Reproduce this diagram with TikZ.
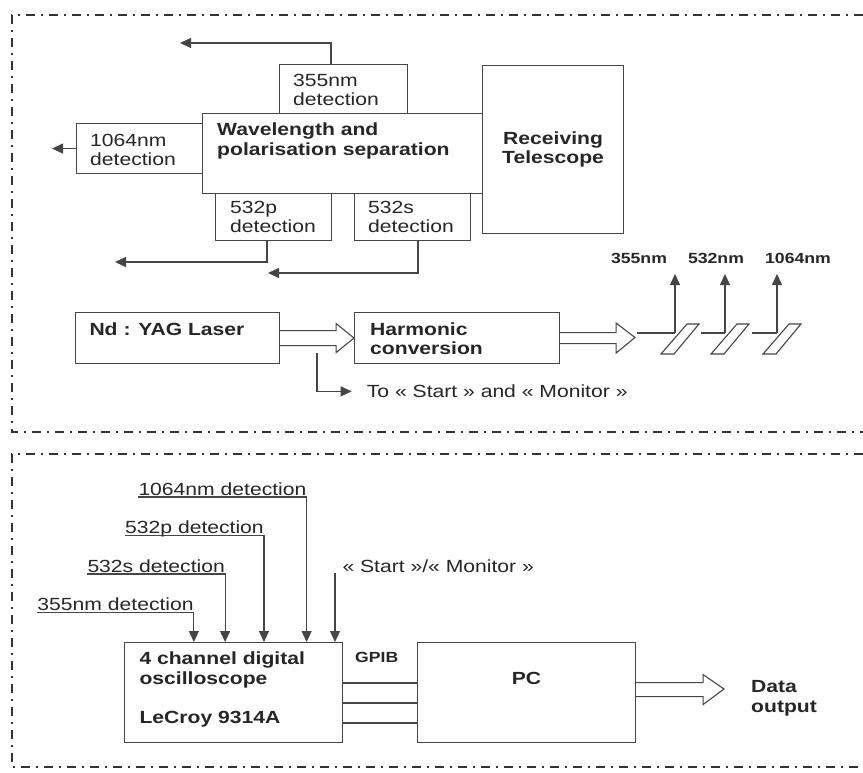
\documentclass[tikz,border=0pt]{standalone}
\usepackage{fontspec}
\setmainfont{Liberation Sans}[FakeStretch=1.2]
\usetikzlibrary{arrows.meta,calc}
\definecolor{linec}{HTML}{454545}
\definecolor{txtc}{HTML}{262626}
\definecolor{borderc}{HTML}{333333}
\newcommand{\fsN}{\fontsize{17.6}{19.5}\selectfont}
\newcommand{\fsS}{\fontsize{14.7}{17}\selectfont\bfseries}
\begin{document}
\begin{tikzpicture}[x=1pt,y=-1pt,
  box/.style={draw=linec, line width=1.1pt, fill=white, rectangle, anchor=north west, inner sep=0pt},
  txt/.style={font=\fsN, text=txtc, inner sep=0pt, align=left},
  btxt/.style={font=\fsN\bfseries, text=txtc, inner sep=0pt, align=left},
  stxt/.style={font=\fsS, text=txtc, inner sep=0pt},
  ar/.style={draw=linec, line width=1.1pt, -{Triangle[length=11pt,width=10pt]}},
  wire/.style={draw=linec, line width=1.1pt},
  hollow/.style={draw=linec, line width=1.1pt, fill=white, line join=miter},
  border/.style={draw=borderc, line width=1.8pt, dash pattern=on 9pt off 6pt on 2pt off 6pt}]
\useasboundingbox (0,0) rectangle (863,773);
\fill[white] (0,0) rectangle (863,773);

% section borders
\draw[border] (863,15) -- (12,15) -- (12,432) -- (863,432);
\draw[border] (863,454) -- (12,454) -- (12,767) -- (863,767);

% ---------- upper section ----------
\node[box, minimum width=128pt, minimum height=49pt,
  label={[txt, anchor=north west, xshift=14pt, yshift=-10pt]north west:{355nm\\detection}}] (b355) at (279,64) {};
\node[box, minimum width=126pt, minimum height=50pt,
  label={[txt, anchor=north west, xshift=14pt, yshift=-11pt]north west:{1064nm\\detection}}] (b1064) at (76,123) {};
\node[box, minimum width=116pt, minimum height=47pt,
  label={[txt, anchor=north west, xshift=15pt, yshift=-7.6pt]north west:{532p\\detection}}] (b532p) at (215,193) {};
\node[box, minimum width=116pt, minimum height=47pt,
  label={[txt, anchor=north west, xshift=14pt, yshift=-7.6pt]north west:{532s\\detection}}] (b532s) at (354,193) {};
\node[box, minimum width=280pt, minimum height=80pt,
  label={[btxt, anchor=north west, xshift=15pt, yshift=-10pt]north west:{Wavelength and\\polarisation separation}}] (wl) at (202,113) {};
\node[box, minimum width=141pt, minimum height=168pt, font=\fsN\bfseries, text=txtc, align=center] (tel) at (482,65) {Receiving\\Telescope};

\coordinate (o355) at (180,43);
\coordinate (o532p) at (115,262);
\coordinate (o532s) at (268,273);
\draw[ar] ($(b355.north west)+(52,0)$) |- (o355);
\draw[ar] (b1064.west) -- ++(-24,0);
\draw[ar] ($(b532p.south west)+(52,0)$) |- (o532p);
\draw[ar] ($(b532s.south west)+(64,0)$) |- (o532s);

\node[box, minimum width=204pt, minimum height=51pt,
  label={[btxt, anchor=north west, xshift=14.3pt, yshift=-10.6pt]north west:{Nd : YAG Laser}}] (laser) at (75,312) {};
\node[box, minimum width=205pt, minimum height=51pt,
  label={[btxt, anchor=north west, xshift=16pt, yshift=-10.3pt]north west:{Harmonic\\conversion}}] (harm) at (354,312) {};

% laser -> harmonic (hollow arrow)
\draw[hollow] ($(laser.east)+(0,-7.5)$) -- ($(laser.east)+(56,-7.5)$) -- ($(laser.east)+(56,-14.5)$)
  -- (harm.west) -- ($(laser.east)+(56,14.5)$) -- ($(laser.east)+(56,7.5)$) -- ($(laser.east)+(0,7.5)$);
% harmonic -> beam (hollow arrow)
\coordinate (hout) at (635,337.5);
\draw[hollow] ($(harm.east)+(0,-5.5)$) -- ($(harm.east)+(56,-5.5)$) -- ($(harm.east)+(56,-15)$)
  -- (hout) -- ($(harm.east)+(56,15)$) -- ($(harm.east)+(56,5.5)$) -- ($(harm.east)+(0,5.5)$);

% branch to start/monitor
\node[txt, anchor=base west] (ts) at (366.7,397.7) {To « Start » and « Monitor »};
\coordinate (ls) at (317,353);
\draw[ar] (ls) |- ([xshift=-15pt]ts.west);

% beam and mirrors
\coordinate (bs) at (637,333);
\coordinate (m1) at (675,333);
\coordinate (m2) at (725,333);
\coordinate (m3) at (777,333);
\coordinate (r1) at (701,333);
\coordinate (r2) at (752,333);
\draw[wire] (bs) -- (m1);
\draw[wire] (r1) -- (m2);
\draw[wire] (r2) -- (m3);
\foreach \dx in {0,50,102} {
  \draw[wire, line join=miter] (661+\dx,354) -- (674+\dx,354) -- (699+\dx,324) -- (687+\dx,324) -- cycle;
}
\draw[ar] (m1) -- ++(0,-59);
\draw[ar] (m2) -- ++(0,-59);
\draw[ar] (m3) -- ++(0,-59);
\node[stxt, anchor=base] (l355) at (639,263.3) {355nm};
\node[stxt, anchor=base] (l532) at (716,263.3) {532nm};
\node[stxt, anchor=base] (l1064) at (798,263.3) {1064nm};

% ---------- lower section ----------
\node[box, minimum width=218pt, minimum height=100pt,
  label={[btxt, anchor=north west, xshift=15.3pt, yshift=-9.6pt]north west:{4 channel digital\\oscilloscope\\[19.5pt]LeCroy 9314A}}] (scope) at (124,642) {};
\node[box, minimum width=218pt, minimum height=100pt,
  label={[btxt, anchor=north, yshift=-30.3pt]north:{PC}}] (pc) at (417,642) {};

\node[txt, anchor=base west] (t1064) at (138.3,495) {1064nm detection};
\node[txt, anchor=base west] (t532p) at (125,533.5) {532p detection};
\node[txt, anchor=base west] (t532s) at (87.3,572) {532s detection};
\node[txt, anchor=base west] (t355) at (37.3,610.5) {355nm detection};
\node[txt, anchor=base west] (tsm) at (342.3,572.7) {« Start »/« Monitor »};

\draw[ar] ([yshift=-2pt]t355.base west) -- ([yshift=-2pt]t355.base east) -- (t355.base east |- scope.north);
\draw[ar] ([yshift=-2pt]t532s.base west) -- ([yshift=-2pt]t532s.base east) -- (t532s.base east |- scope.north);
\draw[ar] ([yshift=-2pt]t532p.base west) -- ([yshift=-2pt]t532p.base east) -- (t532p.base east |- scope.north);
\draw[ar] ([yshift=-2pt]t1064.base west) -- ([yshift=-2pt]t1064.base east) -- (t1064.base east |- scope.north);
\coordinate (sm) at (335,573);
\draw[ar] (sm) -- (sm |- scope.north);

\node[stxt, anchor=base west] (gpib) at (355,662.3) {GPIB};
\draw[wire] ($(scope.north east)+(0,41)$) -- ($(pc.north west)+(0,41)$);
\draw[wire] ($(scope.north east)+(0,61)$) -- ($(pc.north west)+(0,61)$);
\draw[wire] ($(scope.north east)+(0,81)$) -- ($(pc.north west)+(0,81)$);

\coordinate (dout) at (724,689);
\draw[hollow] ($(pc.east)+(0,-10)$) -- ($(pc.east)+(67,-10)$) -- ($(pc.east)+(67,-18)$)
  -- (dout) -- ($(pc.east)+(67,12)$) -- ($(pc.east)+(67,4)$) -- ($(pc.east)+(0,4)$);
\node[btxt, anchor=north west] (data) at (751,680.6) {Data\\output};
\end{tikzpicture}
\end{document}
